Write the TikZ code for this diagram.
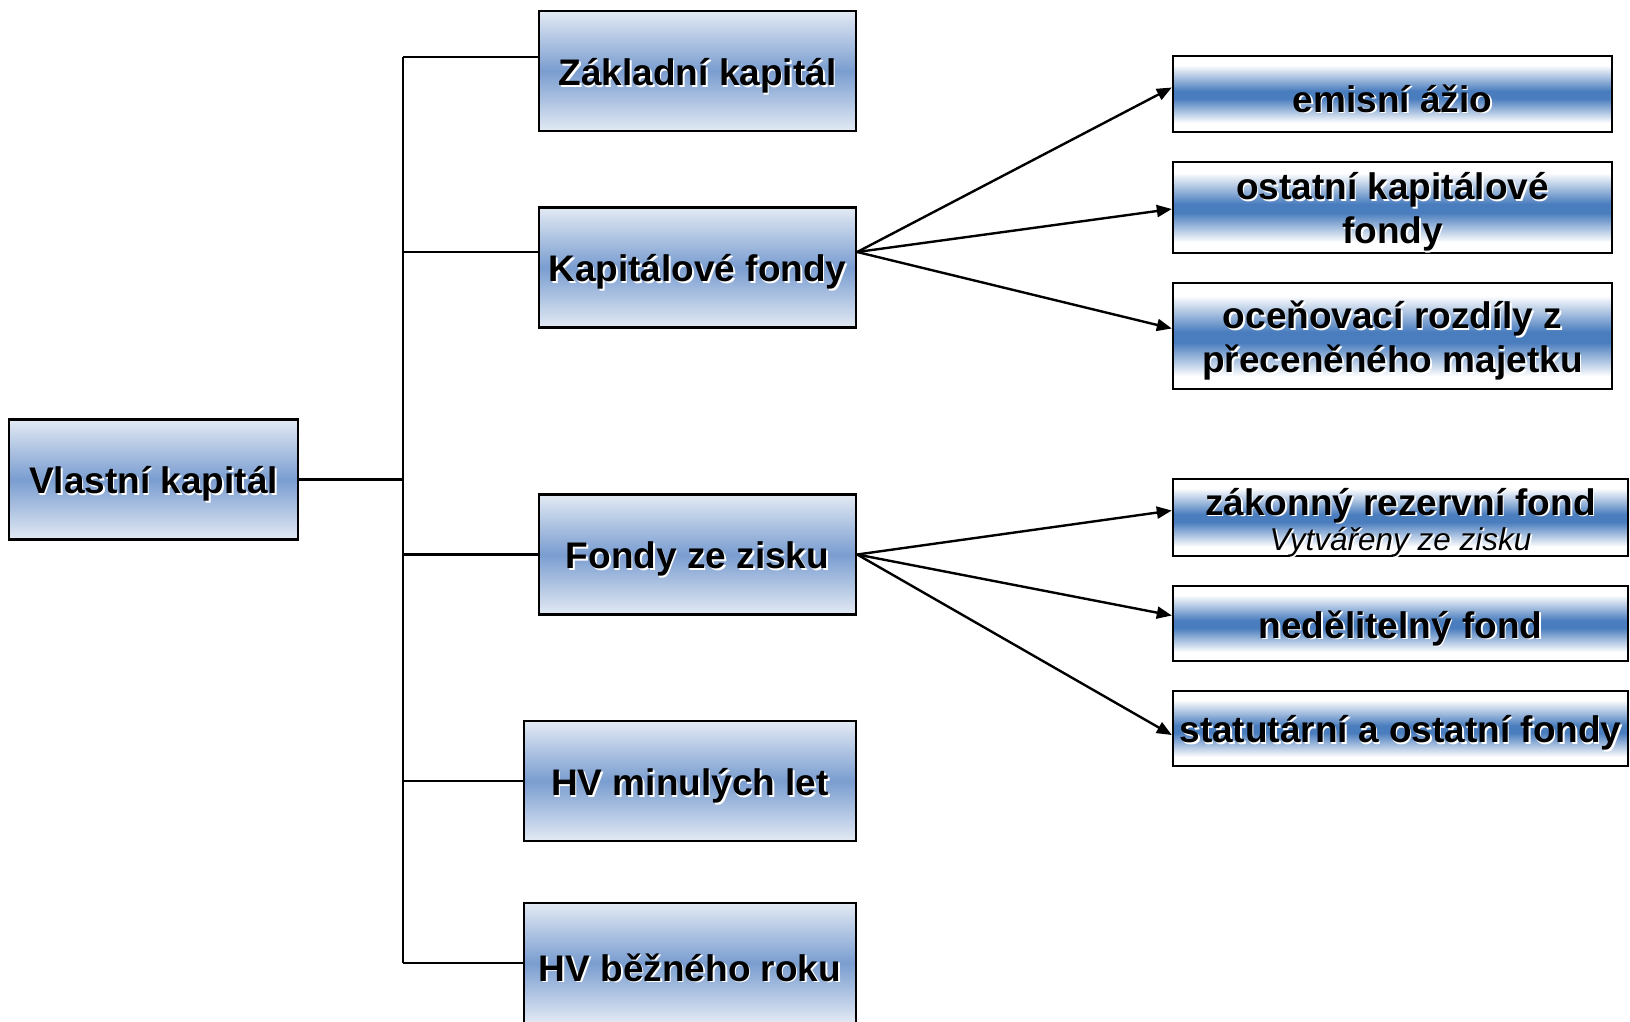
\documentclass[tikz,border=0pt]{standalone}
\usepackage{fontspec}
\setmainfont{Liberation Sans}
\usetikzlibrary{arrows.meta}
\definecolor{lblue}{HTML}{7A9DD0}
\definecolor{llight}{HTML}{E3EAF4}
\definecolor{rblue}{HTML}{4A7DBE}
\pgfdeclareverticalshading{rshade}{100bp}{color(0bp)=(white); color(25bp)=(white); color(31bp)=(white); color(47bp)=(rblue); color(52bp)=(rblue); color(69bp)=(white); color(75bp)=(white); color(100bp)=(white)}
\newcommand\tx[1]{\raisebox{-5.5pt}[\height][\depth]{\makebox[0pt][l]{\kern1.6pt\raisebox{-1.6pt}{\textcolor{white}{#1}}}#1}}
\tikzset{
  base/.style={draw=black, line width=2.4pt, inner sep=0pt, align=center,
    font=\bfseries\fontsize{37}{44}\selectfont},
  lbox/.style={base, top color=llight, bottom color=llight, middle color=lblue},
  rbox/.style={base, shading=rshade},
  conn/.style={line width=2.4pt},
  arr/.style={conn, -{Triangle[length=15pt,width=12pt]}}
}
\begin{document}
\begin{tikzpicture}[x=1pt,y=-1pt]
\useasboundingbox (0,0) rectangle (1630,1021);
% left column
\node[lbox, minimum width=289pt, minimum height=120pt] (vk) at (153.5,479.5) {\tx{Vlastní kapitál}};
\node[lbox, minimum width=317pt, minimum height=120pt] (zk) at (697.5,71) {\tx{Základní kapitál}};
\node[lbox, minimum width=317pt, minimum height=120pt] (kf) at (697.5,267.5) {\tx{Kapitálové fondy}};
\node[lbox, minimum width=317pt, minimum height=120pt] (fz) at (697.5,554.5) {\tx{Fondy ze zisku}};
\node[lbox, minimum width=332pt, minimum height=120pt] (hm) at (690,781) {\tx{HV minulých let}};
\node[lbox, minimum width=332pt, minimum height=120pt] (hb) at (690,963) {\tx{HV běžného roku}};
% right column
\node[rbox, minimum width=439pt, minimum height=76pt] (e1) at (1392.5,94) {\tx{emisní ážio}};
\node[rbox, minimum width=439pt, minimum height=91pt] (e2) at (1392.5,207.5) {\tx{ostatní kapitálové}\\\tx{fondy}};
\node[rbox, minimum width=439pt, minimum height=106pt] (e3) at (1392.5,336) {\tx{oceňovací rozdíly z}\\\tx{přeceněného majetku}};
\node[rbox, minimum width=455pt, minimum height=77pt] (f1) at (1400.5,517.5) {\tx{zákonný rezervní fond}\\[-9pt]{\mdseries\itshape\fontsize{31.5}{34}\selectfont\tx{Vytvářeny ze zisku}}};
\node[rbox, minimum width=455pt, minimum height=75pt] (f2) at (1400.5,623.5) {\tx{nedělitelný fond}};
\node[rbox, minimum width=455pt, minimum height=75pt] (f3) at (1400.5,728.5) {\tx{statutární a ostatní fondy}};
% trunk
\coordinate (ttop) at (403,57);
\coordinate (tbot) at (403,963);
\draw[conn] (ttop) -- (tbot);
\coordinate (vkout) at (vk.east);
\coordinate (zkin) at ([yshift=14pt]zk.west);
\coordinate (kfin) at ([yshift=15.5pt]kf.west);
\coordinate (fzin) at (fz.west);
\coordinate (hmin) at (hm.west);
\coordinate (hbin) at (hb.west);
\draw[conn] (vkout) -- (vkout -| ttop);
\foreach \c in {zkin,kfin,fzin,hmin,hbin}{\draw[conn] (\c) -- (\c -| ttop);}
% arrows
\coordinate (kfout) at ([yshift=15.5pt]kf.east);
\draw[arr] (kfout) -- ([yshift=6.5pt]e1.west);
\draw[arr] (kfout) -- ([yshift=-1.5pt]e2.west);
\draw[arr] (kfout) -- ([yshift=7.5pt]e3.west);
\draw[arr] (fz.east) -- ([yshift=7pt]f1.west);
\draw[arr] (fz.east) -- ([yshift=8pt]f2.west);
\draw[arr] (fz.east) -- ([yshift=-6.5pt]f3.west);
\end{tikzpicture}
\end{document}
